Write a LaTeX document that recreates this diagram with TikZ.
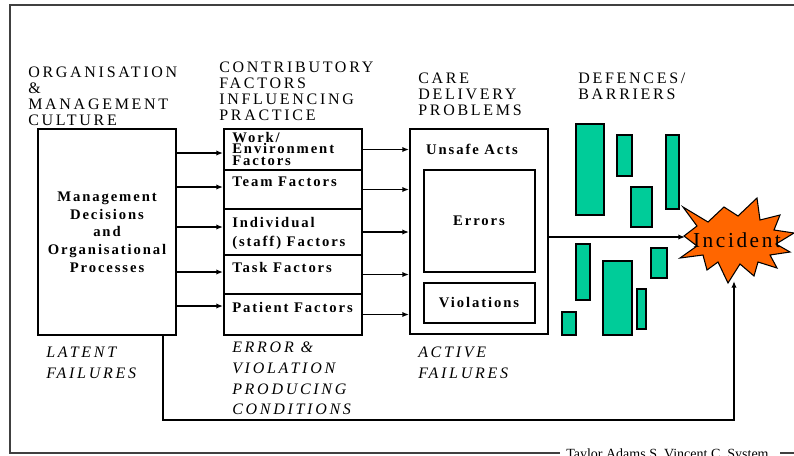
\documentclass[tikz,border=0pt]{standalone}
\usepackage{fontspec}
\setmainfont{Liberation Serif}
\usetikzlibrary{arrows.meta,fit}
\definecolor{barrier}{RGB}{0,204,153}
\definecolor{burst}{RGB}{255,102,0}
\tikzset{
  box/.style={draw, line width=1.5pt, inner sep=0pt},
  bar/.style={draw, line width=1.2pt, fill=barrier, inner sep=0pt},
  frame/.style={draw=black!75, line width=1.5pt},
  head/.style={font=\fontsize{12}{12}\selectfont\addfontfeature{LetterSpace=17},
    align=left, anchor=north west, inner sep=0pt},
  note/.style={font=\fontsize{12}{15.5}\selectfont\itshape\addfontfeature{LetterSpace=17},
    align=left, anchor=north west, inner sep=0pt},
  boldtxt/.style={font=\fontsize{11}{13.3}\selectfont\bfseries\addfontfeature{LetterSpace=13},
    inner sep=0pt},
  factor/.style={boldtxt, align=left, anchor=north west},
  link/.style={line width=1.1pt, -{Latex[length=5pt,width=4pt]}},
}
\begin{document}
\begin{tikzpicture}[x=0.75pt,y=-0.75pt]
  \useasboundingbox (0,0) rectangle (794,455);
  % outer frame and credit
  \node[font=\fontsize{10.5}{10.5}\selectfont, anchor=base west, inner sep=0pt]
    (credit) at (566,458) {Taylor Adams S, Vincent C. System};
  \draw[frame] (800,5) -- (10,5) -- (10,453) -- (560,453);
  \draw[frame] (780,453) -- (800,453);
  % headings
  \node[head] (orgHead) at (28,67) {ORGANISATION\\\&\\MANAGEMENT\\CULTURE};
  \node[head] (cfHead) at (219,62) {CONTRIBUTORY\\FACTORS\\INFLUENCING\\PRACTICE};
  \node[head] (cdpHead) at (418,73) {CARE\\DELIVERY\\PROBLEMS};
  \node[head] (defHead) at (578,73) {DEFENCES/\\BARRIERS};
  % boxes
  \node[box, fit={(38,129) (176,335)}] (mgmt) {};
  \node[box, fit={(224,129) (362,170)}] (work) {};
  \node[box, fit={(224,170) (362,209)}] (team) {};
  \node[box, fit={(224,209) (362,255)}] (indiv) {};
  \node[box, fit={(224,255) (362,294)}] (task) {};
  \node[box, fit={(224,294) (362,335)}] (patient) {};
  \node[box, fit={(410,129) (548,334)}] (cdp) {};
  \node[box, fit={(424,170) (535,272)}] (errors) {};
  \node[box, fit={(424,283) (535,323)}] (viol) {};
  % box texts
  \node[boldtxt, align=center] (mgmtText) at (107,232)
    {Management\\Decisions\\and\\Organisational\\Processes};
  \node[factor] (workText) at (232,132) {Work/\\[-4.7pt]Environment\\[-4.7pt]Factors};
  \node[factor] (teamText) at (232,177) {Team Factors};
  \node[factor] (indivText) at (232,217) {Individual\\[1pt](staff) Factors};
  \node[factor] (taskText) at (232,262) {Task Factors};
  \node[factor] (patientText) at (232,302) {Patient Factors};
  \node[boldtxt] (unsafeText) at (472,149) {Unsafe Acts};
  \node[boldtxt] (errorsText) at (479,221) {Errors};
  \node[boldtxt] (violText) at (479,303) {Violations};
  % defences
  \node[bar, fit={(576,124) (604,215)}] (bar1) {};
  \node[bar, fit={(617,135) (632,176)}] (bar2) {};
  \node[bar, fit={(631,187) (652,227)}] (bar3) {};
  \node[bar, fit={(666,135) (679,209)}] (bar4) {};
  \node[bar, fit={(576,244) (590,300)}] (bar5) {};
  \node[bar, fit={(603,261) (632,335)}] (bar6) {};
  \node[bar, fit={(637,289) (646,329)}] (bar7) {};
  \node[bar, fit={(651,248) (667,278)}] (bar8) {};
  \node[bar, fit={(562,312) (576,335)}] (bar9) {};
  % incident
  \draw[fill=burst, line width=0.8pt] (683,207) -- (708,222) -- (724,207)
    -- (738,216) -- (757,198) -- (760,220) -- (780,215) -- (774,230)
    -- (794,233) -- (776,244) -- (790,252) -- (770,255) -- (777,268)
    -- (758,262) -- (754,276) -- (740,264) -- (728,283) -- (718,262)
    -- (707,270) -- (703,255) -- (680,258) -- (697,246) -- (684,236)
    -- (697,226) -- cycle;
  \coordinate (burstW) at (685,237);
  \coordinate (burstS) at (734,281);
  \node[font=\fontsize{16}{16}\selectfont\addfontfeature{LetterSpace=12}, inner sep=0pt]
    (incident) at (737,240) {Incident};
  % failure labels
  \node[note] (latent) at (46,347) {LATENT\\FAILURES};
  \node[note] (evpc) at (232,342) {ERROR \&\\VIOLATION\\PRODUCING\\CONDITIONS};
  \node[note] (active) at (418,347) {ACTIVE\\FAILURES};
  % connectors
  \begin{scope}[link]
    \draw (mgmt.east |- 0,153) to (work.west |- 0,153);
    \draw (mgmt.east |- 0,187) to (team.west |- 0,187);
    \draw (mgmt.east |- 0,227) to (indiv.west |- 0,227);
    \draw (mgmt.east |- 0,272) to (task.west |- 0,272);
    \draw (mgmt.east |- 0,306) to (patient.west |- 0,306);
    \draw (work.east) to (cdp.west |- work.east);
    \draw (team.east) to (cdp.west |- team.east);
    \draw (indiv.east) to (cdp.west |- indiv.east);
    \draw (task.east) to (cdp.west |- task.east);
    \draw (patient.east) to (cdp.west |- patient.east);
    \draw (cdp.east |- burstW) to (burstW);
    \draw ([xshift=-10.5pt]mgmt.south east) -- ++(0,84) -| (burstS);
  \end{scope}
\end{tikzpicture}
\end{document}
